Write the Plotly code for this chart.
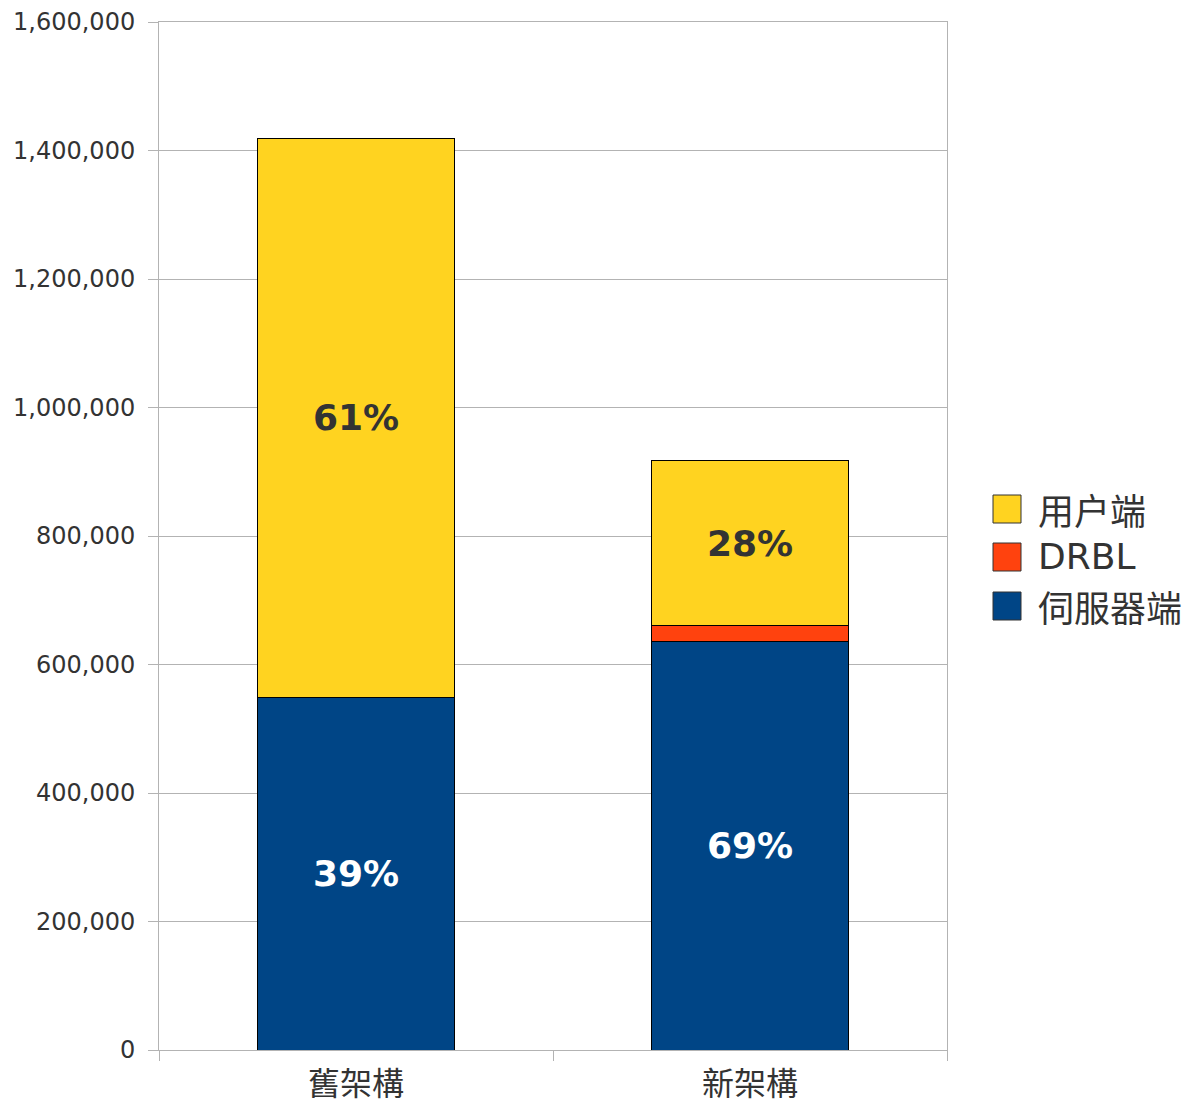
import plotly.graph_objects as go

# Architecture comparison: stacked load by component
categories = ["舊架構", "新架構"]
series_names = ["伺服器端", "DRBL", "用户端"]
server_side = [549000, 636000]
drbl = [0, 25000]
client_side = [870000, 256000]

colors = {"伺服器端": "#004586", "DRBL": "#FF420E", "用户端": "#FFD320"}
label_colors = {"伺服器端": "white", "DRBL": "white", "用户端": "#333333"}

totals = [s + d + c for s, d, c in zip(server_side, drbl, client_side)]
values = {"伺服器端": server_side, "DRBL": drbl, "用户端": client_side}

W, H = 1188, 1109
L, R, T, B = 159, 241, 22, 59
PW, PH = W - L - R, H - T - B

fig = go.Figure()
for name in series_names:
    vals = values[name]
    if name == "DRBL":
        texts = ["" for _ in vals]
    else:
        texts = [f"{round(100 * v / t)}%" for v, t in zip(vals, totals)]
    fig.add_trace(go.Bar(
        x=categories, y=vals, name=name,
        marker=dict(color=colors[name], line=dict(color="#000000", width=1)),
        text=texts, textposition="inside", insidetextanchor="middle",
        textangle=0, cliponaxis=False,
        textfont=dict(family="DejaVu Sans", size=36, color=label_colors[name],
                      weight="bold"),
        showlegend=False, hoverinfo="skip",
    ))

# Legend drawn as squares and labels at the right of the plot
def px_x(px):
    return (px - L) / PW

def px_y(py):
    return (T + PH - py) / PH

legend_items = ["用户端", "DRBL", "伺服器端"]
legend_rows = [509, 557, 606]
shapes, annotations = [], []
for name, cy in zip(legend_items, legend_rows):
    shapes.append(dict(
        type="rect", xref="paper", yref="paper",
        x0=px_x(993), x1=px_x(1021), y0=px_y(cy + 14), y1=px_y(cy - 14),
        fillcolor=colors[name], line=dict(color="#333333", width=1),
    ))
    fam = "DejaVu Sans" if name == "DRBL" else "Noto Sans CJK TC"
    annotations.append(dict(
        xref="paper", yref="paper", x=px_x(1036), y=px_y(cy),
        xanchor="left", yanchor="middle", showarrow=False, text=name,
        font=dict(family=fam, size=36, color="#333333"),
    ))

fig.update_layout(
    width=W, height=H,
    margin=dict(l=L, r=R, t=T, b=B, pad=0, autoexpand=False),
    barmode="stack", bargap=0.5,
    plot_bgcolor="white", paper_bgcolor="white",
    font=dict(family="DejaVu Sans", color="#333333"),
    shapes=shapes, annotations=annotations,
    uniformtext=dict(mode=False),
)
fig.update_xaxes(
    automargin=False,
    showgrid=False, showline=True, linecolor="#b3b3b3", linewidth=1, mirror=True,
    ticks="outside", tickson="boundaries", ticklen=10, tickcolor="#b3b3b3",
    tickfont=dict(family="Noto Sans CJK TC", size=32, color="#333333"),
    ticklabelstandoff=6,
)
fig.update_yaxes(
    automargin=False,
    range=[0, 1600000], dtick=200000, tickformat=",d",
    showgrid=True, gridcolor="#b3b3b3", gridwidth=1,
    showline=True, linecolor="#b3b3b3", linewidth=1, mirror=True,
    ticks="outside", ticklen=10, tickcolor="#b3b3b3",
    tickfont=dict(family="DejaVu Sans", size=24, color="#333333"),
    ticklabelstandoff=8, zeroline=False,
)

fig.write_html("out.html")
